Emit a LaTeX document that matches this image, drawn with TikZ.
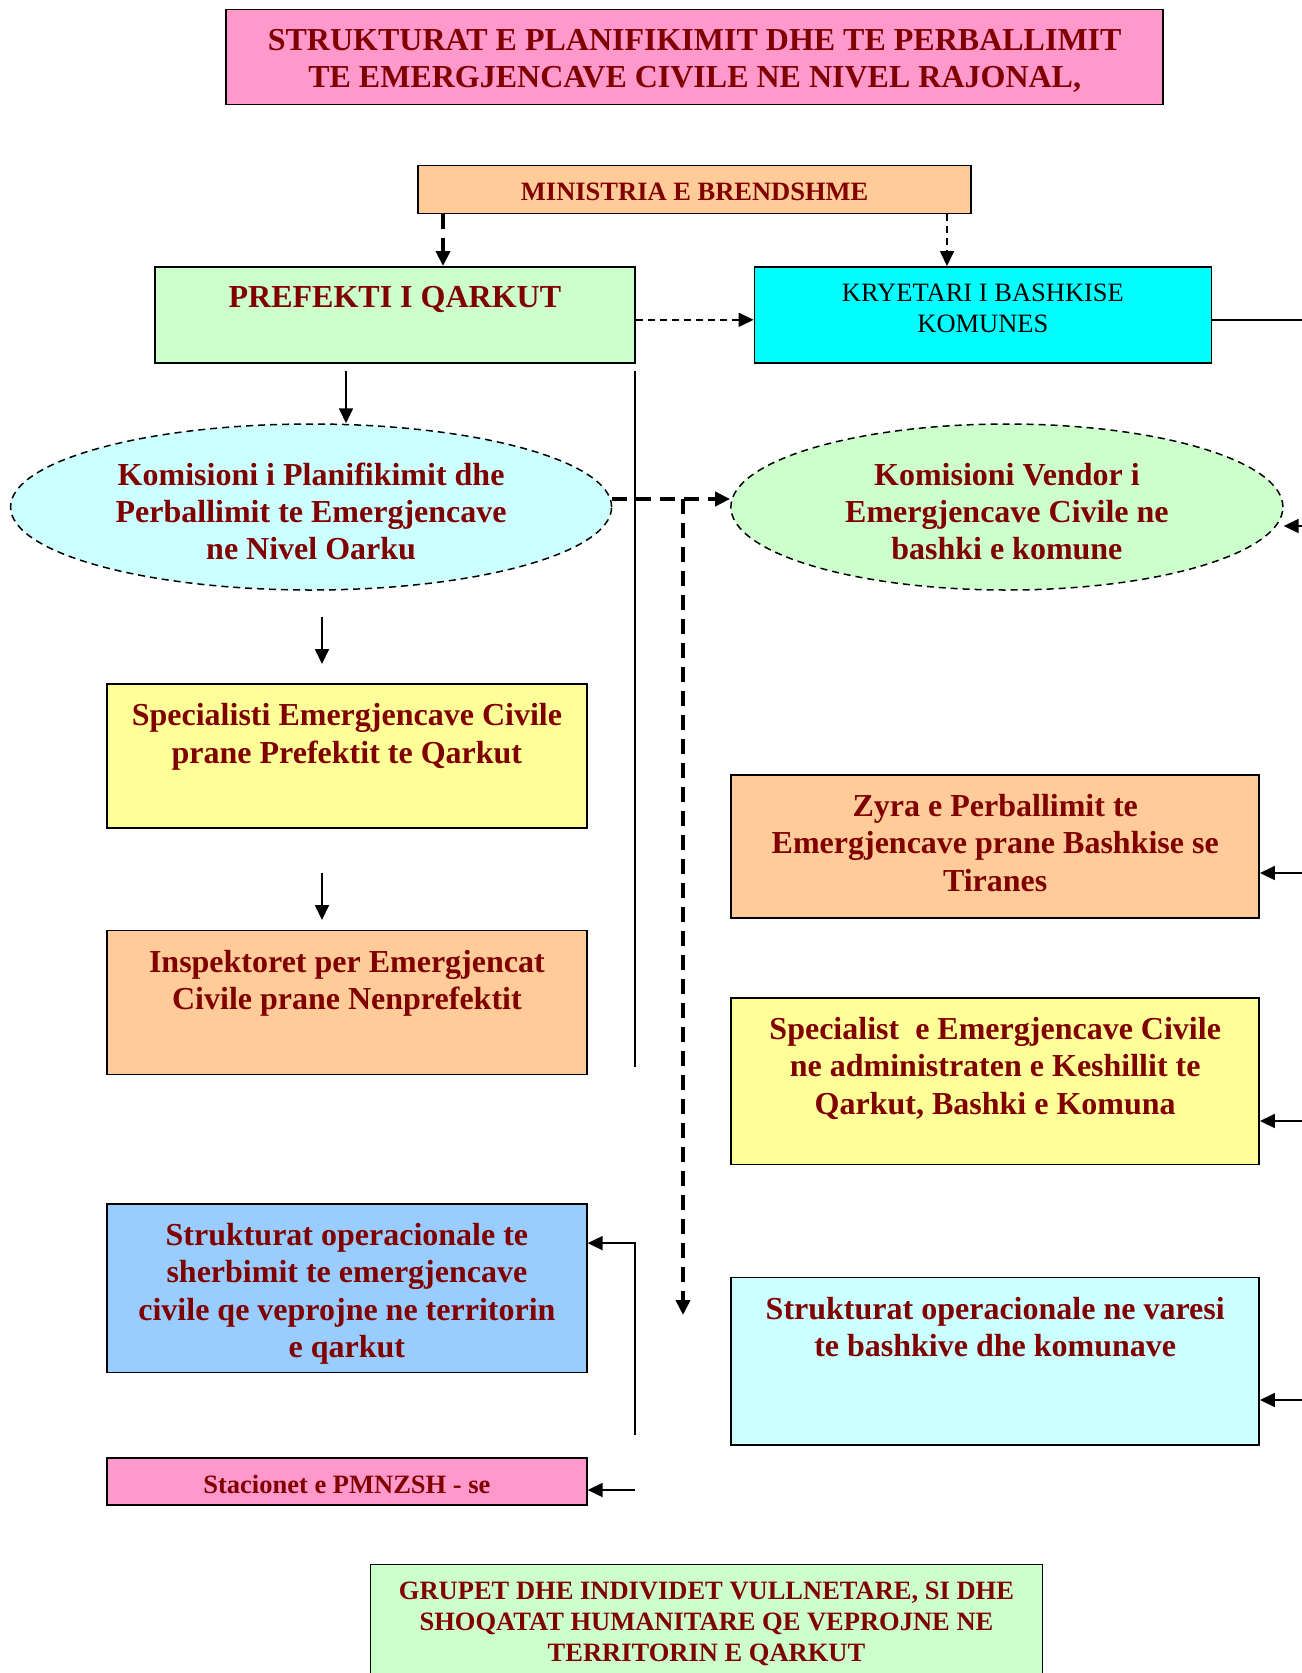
\documentclass[tikz,border=0pt]{standalone}
\usepackage{fontspec}
\setmainfont{Liberation Serif}
\usepackage{tikz}
\usetikzlibrary{arrows.meta,shapes,positioning}
\definecolor{darkred}{HTML}{800000}
\definecolor{pinkc}{HTML}{FF99CC}
\definecolor{peachc}{HTML}{FFCC99}
\definecolor{greenc}{HTML}{CCFFCC}
\definecolor{cyanc}{HTML}{00FFFF}
\definecolor{icec}{HTML}{CCFFFF}
\definecolor{yellowc}{HTML}{FFFF99}
\definecolor{bluec}{HTML}{99CCFF}

\begin{document}
\begin{tikzpicture}[
  >={Triangle[length=15bp,width=14bp]},
  box/.style={draw,line width=1.5bp,rectangle,inner sep=0pt},
  bigtxt/.style={align=center,inner sep=0pt,text=darkred,font=\bfseries\fontsize{32bp}{37.3bp}\selectfont},
  smalltxt/.style={align=center,inner sep=0pt,text=darkred,font=\bfseries\fontsize{26.5bp}{31bp}\selectfont},
  thindash/.style={line width=1.5bp,dash pattern=on 7bp off 5bp},
  thickdash/.style={line width=3.8bp,dash pattern=on 15bp off 9bp},
  link/.style={line width=1.8bp}]
\useasboundingbox (0,0) rectangle (1302bp,-1673bp);

% boxes
\node (title) at (694.7bp,-57.1bp)[box,fill=pinkc,minimum width=937bp,minimum height=95bp] {};
\node (titletxt)[bigtxt,below=20bp of title.north] {STRUKTURAT E PLANIFIKIMIT DHE TE PERBALLIMIT\\TE EMERGJENCAVE CIVILE NE NIVEL RAJONAL,};
\node (mini) at (694.7bp,-189.4bp)[box,fill=peachc,minimum width=553bp,minimum height=48bp] {};
\node (minitxt)[smalltxt,below=18bp of mini.north] {MINISTRIA E BRENDSHME};
\node (pref) at (394.9bp,-314.8bp)[box,fill=greenc,minimum width=480bp,minimum height=96bp] {};
\node (preftxt)[bigtxt,below=20bp of pref.north] {PREFEKTI I QARKUT};
\node (kry) at (982.9bp,-314.8bp)[box,fill=cyanc,minimum width=457bp,minimum height=96bp] {};
\node (krytxt)[align=center,inner sep=0pt,font=\fontsize{26.5bp}{31bp}\selectfont,below=18bp of kry.north] {KRYETARI I BASHKISE\\KOMUNES};
\node (kpo) at (311.1bp,-507bp)[draw,ellipse,thindash,fill=icec,minimum width=601bp,minimum height=166bp,inner sep=0pt] {};
\node (kpotxt) at ([yshift=-4.5bp]kpo.center)[bigtxt] {Komisioni i Planifikimit dhe\\Perballimit te Emergjencave\\ne Nivel Oarku};
\node (kv) at (1006.9bp,-507bp)[draw,ellipse,thindash,fill=greenc,minimum width=552bp,minimum height=166bp,inner sep=0pt] {};
\node (kvtxt) at ([yshift=-4.5bp]kv.center)[bigtxt] {Komisioni Vendor i\\Emergjencave Civile ne\\bashki e komune};
\node (spec1) at (346.9bp,-756.1bp)[box,fill=yellowc,minimum width=480bp,minimum height=144bp] {};
\node (spec1txt)[bigtxt,below=20bp of spec1.north] {Specialisti Emergjencave Civile\\prane Prefektit te Qarkut};
\node (insp) at (346.9bp,-1002.6bp)[box,fill=peachc,minimum width=480bp,minimum height=144bp] {};
\node (insptxt)[bigtxt,below=20bp of insp.north] {Inspektoret per Emergjencat\\Civile prane Nenprefektit};
\node (struk1) at (346.9bp,-1288.1bp)[box,fill=bluec,minimum width=480bp,minimum height=168.6bp] {};
\node (struk1txt)[bigtxt,below=20bp of struk1.north] {Strukturat operacionale te\\sherbimit te emergjencave\\civile qe veprojne ne territorin\\e qarkut};
\node (stac) at (346.9bp,-1481.3bp)[box,fill=pinkc,minimum width=480bp,minimum height=47bp] {};
\node (stactxt)[smalltxt,below=18bp of stac.north] {Stacionet e PMNZSH - se};
\node (zyra) at (995.2bp,-846.3bp)[box,fill=peachc,minimum width=528bp,minimum height=143bp] {};
\node (zyratxt)[bigtxt,below=20bp of zyra.north] {Zyra e Perballimit te\\Emergjencave prane Bashkise se\\Tiranes};
\node (spec2) at (995.2bp,-1081bp)[box,fill=yellowc,minimum width=528bp,minimum height=166.5bp] {};
\node (spec2txt)[bigtxt,below=20bp of spec2.north] {Specialist\ \ e Emergjencave Civile\\ne administraten e Keshillit te\\Qarkut, Bashki e Komuna};
\node (struk2) at (995.2bp,-1361.2bp)[box,fill=icec,minimum width=528bp,minimum height=167.6bp] {};
\node (struk2txt)[bigtxt,below=20bp of struk2.north] {Strukturat operacionale ne varesi\\te bashkive dhe komunave};
\node (grupet) at (706.5bp,-1642bp)[box,fill=greenc,minimum width=672bp,minimum height=155bp] {};
\node (grupettxt)[smalltxt,below=18bp of grupet.north] {GRUPET DHE INDIVIDET VULLNETARE, SI DHE\\SHOQATAT HUMANITARE QE VEPROJNE NE\\TERRITORIN E QARKUT};

% free ends
\coordinate (edgeK) at (1320bp,-320bp);
\coordinate (p1) at (346bp,-371bp);
\coordinate (v1) at (635bp,-371bp);
\coordinate (v2) at (635bp,-1067bp);
\coordinate (j1) at (683bp,-499bp);
\coordinate (j2) at (683bp,-1315bp);
\coordinate (e1) at (322bp,-617bp);
\coordinate (e2) at (322bp,-664bp);
\coordinate (s1) at (322bp,-873bp);
\coordinate (s2) at (322bp,-920bp);
\coordinate (v3) at (635bp,-1435bp);
\coordinate (v4) at (635bp,-1490bp);
\coordinate (r1) at (1320bp,-526bp);
\coordinate (r2) at (1320bp,-873bp);
\coordinate (r3) at (1320bp,-1121bp);
\coordinate (r4) at (1320bp,-1400bp);

% connectors
\draw [thickdash,->] (443bp,0 |- mini.south) -- (443bp,0 |- pref.north);
\draw [thindash,->] (947bp,0 |- mini.south) -- (947bp,0 |- kry.north);
\draw [thindash,->] ([yshift=-5bp]pref.east) -- ([yshift=-5bp]kry.west);
\draw [link] (edgeK -| kry.east) -- (edgeK);
\draw [link,->] (p1) -- (p1 |- kpo.north);
\draw [link] (v1) -- (v2);
\draw [thickdash,->] ([yshift=8bp]kpo.east) -- ([yshift=8bp]kv.west);
\draw [thickdash,->] (j1) -- (j2);
\draw [link,->] (e1) -- (e2);
\draw [link,->] (s1) -- (s2);
\draw [link,->] (v3) |- ([yshift=45bp]struk1.east);
\draw [link,->] (v4) -- (v4 -| stac.east);
\draw [link,->] (r1) -- (r1 -| kv.east);
\draw [link,->] (r2) -- (r2 -| zyra.east);
\draw [link,->] (r3) -- (r3 -| spec2.east);
\draw [link,->] (r4) -- (r4 -| struk2.east);
\end{tikzpicture}
\end{document}
